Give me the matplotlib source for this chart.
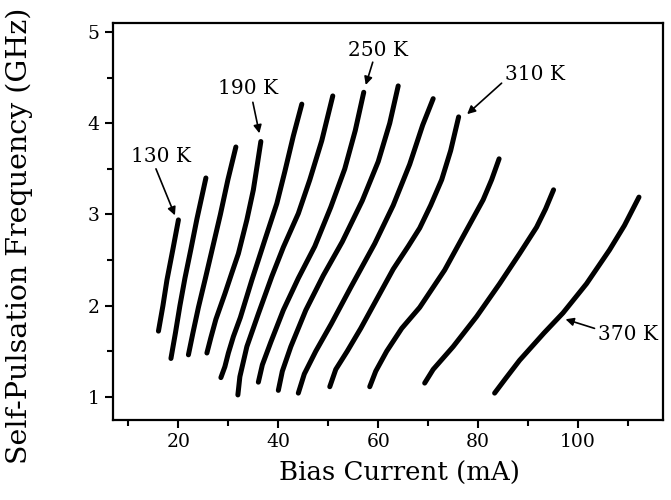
import matplotlib.pyplot as plt

plt.rcParams['font.family'] = ['DejaVu Serif']

# 各温度下的自脉动频率曲线
temps = [130, 150, 170, 190, 210, 230, 250, 270, 290, 310, 330, 350, 370]

current = [
    [16.0, 16.9, 17.7, 18.9, 20.0],
    [18.5, 19.4, 20.3, 21.3, 22.5, 23.7, 24.7, 25.5],
    [22.0, 22.9, 24.0, 25.4, 26.9, 28.4, 29.9, 31.5],
    [25.7, 26.5, 27.5, 29.3, 30.7, 32.0, 33.7, 35.0, 35.8, 36.5],
    [28.5, 29.3, 30.0, 31.0, 32.4, 34.7, 37.3, 39.7, 41.3, 43.0, 44.7],
    [31.9, 32.3, 33.7, 36.0, 38.7, 41.0, 44.0, 46.3, 48.7, 50.9],
    [36.0, 36.8, 38.5, 41.0, 44.0, 47.3, 50.5, 53.3, 55.4, 57.1],
    [40.0, 40.8, 42.5, 45.5, 49.0, 52.8, 56.8, 60.0, 62.3, 64.0],
    [44.0, 45.2, 47.5, 50.6, 54.5, 59.3, 63.0, 66.3, 68.9, 71.0],
    [50.3, 51.5, 53.8, 56.5, 60.0, 63.0, 66.0, 68.3, 70.5, 72.7, 74.5, 76.1],
    [58.3, 59.5, 61.7, 64.7, 68.3, 73.3, 77.7, 81.0, 82.7, 84.2],
    [69.3, 71.0, 75.0, 79.7, 84.3, 88.3, 91.7, 93.5, 95.1],
    [83.3, 85.5, 88.3, 93.2, 97.0, 101.7, 106.3, 109.3, 112.2],
]

freq = [
    [1.72, 2.00, 2.28, 2.62, 2.94],
    [1.42, 1.70, 2.00, 2.30, 2.62, 2.95, 3.20, 3.40],
    [1.46, 1.70, 1.98, 2.30, 2.65, 3.00, 3.38, 3.74],
    [1.48, 1.65, 1.85, 2.13, 2.36, 2.57, 2.94, 3.27, 3.55, 3.80],
    [1.21, 1.33, 1.48, 1.66, 1.87, 2.28, 2.72, 3.12, 3.47, 3.86, 4.21],
    [1.02, 1.22, 1.55, 1.91, 2.32, 2.64, 3.01, 3.38, 3.81, 4.30],
    [1.16, 1.35, 1.60, 1.95, 2.30, 2.65, 3.08, 3.50, 3.92, 4.34],
    [1.07, 1.28, 1.55, 1.95, 2.33, 2.70, 3.15, 3.58, 4.00, 4.41],
    [1.04, 1.25, 1.50, 1.80, 2.20, 2.68, 3.10, 3.55, 3.98, 4.27],
    [1.11, 1.30, 1.50, 1.75, 2.10, 2.40, 2.65, 2.85, 3.10, 3.38, 3.70, 4.07],
    [1.11, 1.28, 1.50, 1.75, 1.98, 2.39, 2.83, 3.16, 3.38, 3.61],
    [1.15, 1.30, 1.55, 1.88, 2.24, 2.57, 2.86, 3.06, 3.27],
    [1.04, 1.20, 1.40, 1.70, 1.92, 2.24, 2.61, 2.88, 3.19],
]

# 标注: 文字位置和箭头指向
label_temps = [130, 190, 250, 310, 370]
label_xy = [(16.5, 3.64), (33.9, 4.38), (60.0, 4.80), (91.3, 4.53), (110.0, 1.68)]
arrow_tail = [(15.5, 3.50), (34.9, 4.23), (58.9, 4.67), (84.7, 4.44), (103.3, 1.75)]
arrow_head = [(19.3, 2.99), (36.2, 3.89), (57.5, 4.42), (77.8, 4.10), (97.5, 1.85)]

fig = plt.figure(figsize=(6.71, 5), dpi=100)
ax = fig.add_axes([0.1684, 0.16, 0.8196, 0.794])

for x, y in zip(current, freq):
    ax.plot(x, y, color='k', lw=3.6, solid_capstyle='round', solid_joinstyle='round')

for t, xy, tail, head in zip(label_temps, label_xy, arrow_tail, arrow_head):
    ax.text(xy[0], xy[1], f'{t} K', ha='center', va='center', fontsize=14.5)
    ax.annotate('', xy=head, xytext=tail,
                arrowprops=dict(arrowstyle='-|>', color='k', lw=1.2,
                                mutation_scale=12, shrinkA=0, shrinkB=0))

ax.set_xlim(6.9, 117)
ax.set_ylim(0.745, 5.1)
ax.set_xticks([20, 40, 60, 80, 100])
ax.set_xticks([10, 30, 50, 70, 90, 110], minor=True)
ax.set_yticks([1, 2, 3, 4, 5])
ax.set_yticks([1.5, 2.5, 3.5, 4.5], minor=True)
ax.tick_params(which='both', direction='out', width=1.5, labelsize=13.5,
               top=False, right=False)
ax.tick_params(which='major', length=6)
ax.tick_params(which='minor', length=4)
for s in ax.spines.values():
    s.set_linewidth(1.6)

ax.set_xlabel('Bias Current (mA)', fontsize=18.7, va='top')
ax.set_ylabel('Self-Pulsation Frequency (GHz)', fontsize=20.5)
ax.xaxis.set_label_coords(0.52, -0.103)
ax.yaxis.set_label_coords(-0.145, 0.4635)

fig.savefig('out.png', dpi=100)
